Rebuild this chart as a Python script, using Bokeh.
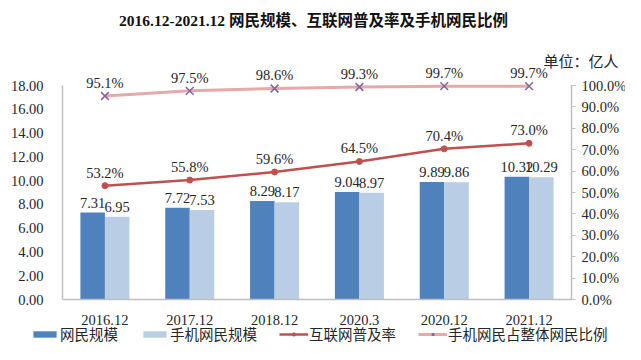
from bokeh.plotting import figure
from bokeh.models import (FactorRange, Range1d, LinearAxis, SingleIntervalTicker,
                          PrintfTickFormatter, Legend, LegendItem, Label, ColumnDataSource)
from bokeh.transform import dodge
from bokeh.core.properties import value
from bokeh.embed import file_html
from bokeh.resources import INLINE

categories = ["2016.12", "2017.12", "2018.12", "2020.3", "2020.12", "2021.12"]
netizens = [7.31, 7.72, 8.29, 9.04, 9.89, 10.32]
mobile_netizens = [6.95, 7.53, 8.17, 8.97, 9.86, 10.29]
penetration = [53.2, 55.8, 59.6, 64.5, 70.4, 73.0]
mobile_share = [95.1, 97.5, 98.6, 99.3, 99.7, 99.7]

LEFT_MAX = 18.0
RIGHT_MAX = 100.0

# layout (pixels); the frame covers the whole canvas except a left strip
W, H = 625, 344
DX = -3
AXIS_LEFT, AXIS_RIGHT = 65 + DX, 574 + DX
PAD = W - AXIS_RIGHT               # same padding on both sides of the categories
FRAME_LEFT = AXIS_LEFT - PAD
AXIS_TOP = 85
AXIS_BOTTOM = 299
pxu_l = (AXIS_BOTTOM - AXIS_TOP) / LEFT_MAX
pxu_r = (AXIS_BOTTOM - AXIS_TOP) / RIGHT_MAX
cat_px = (AXIS_RIGHT - AXIS_LEFT) / len(categories)

SERIF = "'Liberation Serif', 'Times New Roman', 'Noto Sans CJK SC'"
CJK = "'Noto Sans CJK SC'"
TXT = "#262626"
FS = "14.5px"

src = ColumnDataSource(dict(
    cat=categories,
    net=netizens,
    mob=mobile_netizens,
    net_lbl=[f"{v:.2f}" for v in netizens],
    mob_lbl=[f"{v:.2f}" for v in mobile_netizens],
    pen=penetration,
    share=mobile_share,
    pen_lbl=[f"{v:.1f}%" for v in penetration],
    share_lbl=[f"{v:.1f}%" for v in mobile_share],
))

xr = FactorRange(*categories, range_padding=PAD / cat_px, range_padding_units="absolute")
p = figure(x_range=xr,
           y_range=Range1d(-(H - AXIS_BOTTOM) / pxu_l, AXIS_BOTTOM / pxu_l),
           width=W, height=H, output_backend="svg", toolbar_location=None,
           min_border_left=FRAME_LEFT, min_border_right=0,
           min_border_top=0, min_border_bottom=0)
p.extra_y_ranges = {"pct": Range1d(-(H - AXIS_BOTTOM) / pxu_r, AXIS_BOTTOM / pxu_r)}
p.outline_line_color = None
p.xgrid.grid_line_color = None
p.ygrid.grid_line_color = None

# axes
ax = p.yaxis[0]
ax.fixed_location = 0
ax.ticker = SingleIntervalTicker(interval=2)
ax.bounds = (0, LEFT_MAX)
ax.formatter = PrintfTickFormatter(format="%.2f")
ax.axis_line_color = "#BFBFBF"
ax.axis_line_width = 1.5
ax.major_tick_line_color = None
ax.minor_tick_line_color = None
ax.major_label_standoff = 13
ax.major_label_text_font = SERIF
ax.major_label_text_font_size = FS
ax.major_label_text_color = TXT

bx = p.xaxis[0]
bx.fixed_location = 0
bx.bounds = (0, len(categories))
bx.axis_line_color = "#BFBFBF"
bx.axis_line_width = 1.5
bx.major_tick_line_color = None
bx.minor_tick_line_color = None
bx.major_label_standoff = 9
bx.major_label_text_font = SERIF
bx.major_label_text_font_size = FS
bx.major_label_text_color = TXT

rax = LinearAxis(y_range_name="pct", ticker=SingleIntervalTicker(interval=10),
                 formatter=PrintfTickFormatter(format="%.1f%%"), bounds=(0, RIGHT_MAX),
                 fixed_location=len(categories))
rax.axis_line_color = "#BFBFBF"
rax.axis_line_width = 1.5
rax.major_tick_line_color = "#BFBFBF"
rax.major_tick_in = 0
rax.major_tick_out = 4
rax.minor_tick_line_color = None
rax.major_label_standoff = 6
rax.major_label_text_font = SERIF
rax.major_label_text_font_size = FS
rax.major_label_text_color = TXT
p.add_layout(rax, "right")

# bars
BW = 0.289
OFF = 0.1445
b1 = p.vbar(x=dodge("cat", -OFF, range=p.x_range), top="net", width=BW,
            source=src, fill_color="#4F81BD", line_color=None)
b2 = p.vbar(x=dodge("cat", OFF, range=p.x_range), top="mob", width=BW,
            source=src, fill_color="#B9CDE5", line_color=None)
p.text(x=dodge("cat", -OFF, range=p.x_range), y="net", text="net_lbl", source=src,
       text_align="center", text_baseline="middle", y_offset=-10,
       text_font=value(SERIF), text_font_size=FS, text_color=TXT)
p.text(x=dodge("cat", OFF, range=p.x_range), y="mob", text="mob_lbl", source=src,
       text_align="center", text_baseline="middle", y_offset=-10,
       text_font=value(SERIF), text_font_size=FS, text_color=TXT)

# lines
l1 = p.line(x="cat", y="pen", source=src, y_range_name="pct", line_color="#C0504D", line_width=2.5)
s1 = p.scatter(x="cat", y="pen", source=src, y_range_name="pct", marker="circle", size=6,
               fill_color="#C0504D", line_color="#C0504D")
l2 = p.line(x="cat", y="share", source=src, y_range_name="pct", line_color="#E6A9A8", line_width=3)
s2 = p.scatter(x="cat", y="share", source=src, y_range_name="pct", marker="x", size=11,
               line_color="#8064A2", line_width=1.5)
p.text(x="cat", y="pen", text="pen_lbl", source=src, y_range_name="pct",
       text_align="center", text_baseline="middle", y_offset=-13,
       text_font=value(SERIF), text_font_size=FS, text_color=TXT)
p.text(x="cat", y="share", text="share_lbl", source=src, y_range_name="pct",
       text_align="center", text_baseline="middle", y_offset=-13,
       text_font=value(SERIF), text_font_size=FS, text_color=TXT)

# title and unit (screen units relative to the frame's bottom-left)
p.add_layout(Label(x=316 + DX - FRAME_LEFT, y=H - 20, x_units="screen", y_units="screen",
                   text="2016.12-2021.12 网民规模、互联网普及率及手机网民比例",
                   text_align="center", text_baseline="middle", text_font=SERIF,
                   text_font_size="15.5px", text_font_style="bold", text_color="#111111"))
p.add_layout(Label(x=621 + DX - FRAME_LEFT, y=H - 60, x_units="screen", y_units="screen",
                   text="单位：亿人", text_align="right", text_baseline="middle",
                   text_font=CJK, text_font_size="15px", text_color=TXT))

legend = Legend(items=[
    LegendItem(label="网民规模", renderers=[b1]),
    LegendItem(label="手机网民规模", renderers=[b2]),
    LegendItem(label="互联网普及率", renderers=[l1, s1]),
    LegendItem(label="手机网民占整体网民比例", renderers=[l2, s2]),
], orientation="horizontal", location=(33 + DX - FRAME_LEFT, 0))
legend.padding = 0
legend.margin = 0
legend.spacing = 22
legend.label_standoff = 1
legend.glyph_width = 29
legend.glyph_height = 8
legend.label_height = 14
legend.border_line_color = None
legend.background_fill_alpha = 0
legend.label_text_font = CJK
legend.label_text_font_size = "14.5px"
legend.label_text_color = TXT
p.add_layout(legend, "center")

open("out.html", "w").write(file_html(p, INLINE))
